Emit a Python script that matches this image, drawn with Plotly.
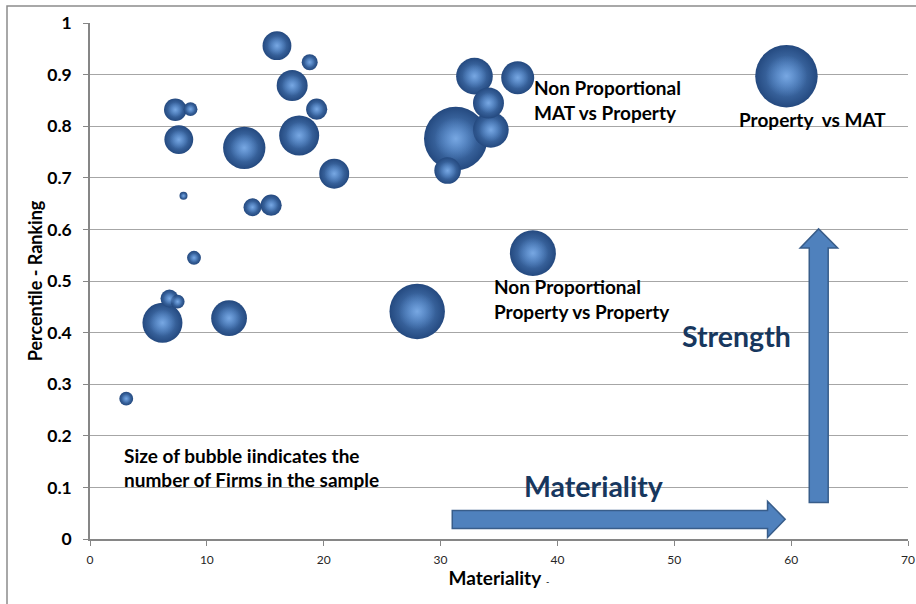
import plotly.graph_objects as go

# Materiality score, percentile ranking and number of firms for each segment
materiality = [28.0, 31.3, 59.6, 37.9, 13.2, 17.9, 6.2, 11.9, 34.3, 32.9,
               36.6, 34.1, 16.0, 17.3, 20.9, 7.6, 30.6, 7.3, 19.4, 15.5,
               13.9, 6.8, 18.8, 7.5, 8.6, 8.9, 3.1, 8.0]
ranking = [0.441, 0.776, 0.897, 0.554, 0.758, 0.782, 0.419, 0.428, 0.793, 0.897,
           0.894, 0.845, 0.956, 0.879, 0.708, 0.774, 0.714, 0.832, 0.833, 0.647,
           0.643, 0.466, 0.924, 0.460, 0.833, 0.545, 0.272, 0.665]
firms = [48, 63, 61, 33, 28, 25, 25, 20, 20, 21,
         17, 15, 13, 15, 14, 13, 11, 8, 7, 7,
         5, 5, 4, 3, 3, 3, 3, 1]

x_ticks = [0, 10, 20, 30, 40, 50, 60, 70]
y_ticks = [0, 0.1, 0.2, 0.3, 0.4, 0.5, 0.6, 0.7, 0.8, 0.9, 1]
y_tick_text = ["0", "0.1", "0.2", "0.3", "0.4", "0.5", "0.6", "0.7", "0.8", "0.9", "1"]

FONT = "Lato"
NAVY = "#17375E"
ARROW_FILL = "#4F81BD"
ARROW_LINE = "#385D8A"

W, H = 916, 604
M = dict(l=90, r=8, t=23, b=65)
PW = W - M["l"] - M["r"]
PH = H - M["t"] - M["b"]

fig = go.Figure()

# spheres: radial shading, gradient.color sits at the centre, marker.color at the rim
fig.add_trace(go.Scatter(
    x=materiality, y=ranking, mode="markers",
    marker=dict(size=firms, sizemode="area", sizeref=1 / 32, opacity=1,
                color="#24497F",
                gradient=dict(type="radial", color="#5A8DCC"),
                line=dict(width=0)),
    hoverinfo="x+y+text", text=[f"{n} firms" for n in firms],
    showlegend=False,
))
# soft highlight on each sphere
fig.add_trace(go.Scatter(
    x=materiality, y=ranking, mode="markers",
    marker=dict(size=firms, sizemode="area", sizeref=1 / 32 / 0.45, opacity=1,
                color="rgba(90,140,205,0)",
                gradient=dict(type="radial", color="rgba(125,172,230,0.85)"),
                line=dict(width=0)),
    hoverinfo="skip", showlegend=False,
))

# direction arrows
def arrow_path(pts):
    return "M " + " L ".join(f"{px},{py}" for px, py in pts) + " Z"

h_arrow = [(31.0, 0.0205), (57.98, 0.0205), (57.98, 0.0031), (59.49, 0.0383),
           (57.98, 0.0731), (57.98, 0.0554), (31.0, 0.0554)]
v_arrow = [(61.55, 0.0709), (63.17, 0.0709), (63.17, 0.564), (63.98, 0.564),
           (62.35, 0.601), (60.77, 0.564), (61.55, 0.564)]
for pts in (h_arrow, v_arrow):
    fig.add_shape(type="path", xref="x", yref="y", path=arrow_path(pts),
                  fillcolor=ARROW_FILL, line=dict(color=ARROW_LINE, width=1.5),
                  layer="above")

# chart-area frame (left and top edges)
fx0 = (7 - M["l"]) / PW
fy_top = 1 + (M["t"] - 6) / PH
fy_bot = -(M["b"] + 2) / PH
fx_right = 1 + (M["r"] + 2) / PW
fig.add_shape(type="path", xref="paper", yref="paper",
              path=f"M {fx0},{fy_bot} L {fx0},{fy_top} L {fx_right},{fy_top}",
              line=dict(color="#8C8C8C", width=1.5))

def label(text, x, y, size=19, color="black", xanchor="left"):
    fig.add_annotation(x=x, y=y, xref="x", yref="y", text=text, showarrow=False,
                       xanchor=xanchor, yanchor="middle",
                       font=dict(family=FONT, size=size, color=color, weight="bold"))

label("Size of bubble iindicates the", 2.74, 0.161)
label("number of Firms in the sample", 2.74, 0.115)
label("Non Proportional", 37.82, 0.875)
label("MAT vs Property", 37.82, 0.827)
label("Property  vs MAT", 55.39, 0.8126)
label("Non Proportional", 34.37, 0.4895)
label("Property vs Property", 34.37, 0.441)
label("Strength", 50.49, 0.394, size=28.5, color=NAVY)
label("Materiality", 37.0, 0.103, size=28.5, color=NAVY)

fig.update_layout(
    width=W, height=H, margin=M,
    paper_bgcolor="white", plot_bgcolor="white",
    font=dict(family=FONT, color="black"),
    xaxis=dict(range=[0, 70], tickvals=x_ticks, ticks="outside", ticklen=5,
               tickcolor="#868686", showline=True, linecolor="#868686", linewidth=1.5,
               showgrid=False, zeroline=False, ticklabelstandoff=4, automargin=False,
               tickfont=dict(family=FONT, size=12, color="#262626"),
               title=dict(text="<b>Materiality</b> <span style='font-size:9px'>-</span>",
                          font=dict(family=FONT, size=19), standoff=6)),
    yaxis=dict(range=[0, 1], tickvals=y_ticks, ticktext=y_tick_text,
               ticks="outside", ticklen=5, tickcolor="#868686",
               showline=True, linecolor="#868686", linewidth=1.5,
               showgrid=True, gridcolor="#A6A6A6", gridwidth=1, zeroline=False,
               ticklabelstandoff=8, automargin=False,
               tickfont=dict(family=FONT, size=17.5, color="black", weight="bold"),
               title=dict(text="Percentile - Ranking",
                          font=dict(family=FONT, size=18, weight="bold"), standoff=0)),
)

fig.write_html("out.html")
